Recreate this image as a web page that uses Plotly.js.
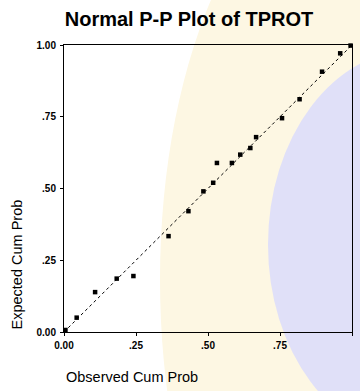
<!DOCTYPE html>
<html>
<head>
<meta charset="utf-8">
<script src="https://cdn.plot.ly/plotly-3.0.1.min.js"></script>
<style>html,body{margin:0;padding:0;background:#fff;}#chart{width:360px;height:391px;}</style>
</head>
<body>
<div id="chart"></div>
<script>
// Observed cumulative probability (x) and expected cumulative probability (y)
var observedCumProb = [0.005, 0.044, 0.108, 0.183, 0.241, 0.363, 0.432, 0.484, 0.518, 0.531, 0.583, 0.612, 0.647, 0.667, 0.757, 0.818, 0.896, 0.959, 0.995];
var expectedCumProb = [0.007, 0.050, 0.139, 0.186, 0.195, 0.334, 0.421, 0.490, 0.520, 0.589, 0.589, 0.618, 0.641, 0.679, 0.745, 0.811, 0.907, 0.971, 0.998];
// Reference diagonal
var diagX = [0, 1];
var diagY = [0, 1];
// Ticks
var tickVals = [0, 0.25, 0.5, 0.75, 1];
var tickText = ["0.00", ".25", ".50", ".75", "1.00"];
var chartTitle = "Normal P-P Plot of TPROT";
var xTitle = "Observed Cum Prob";
var yTitle = "Expected Cum Prob";

var FONT = "Liberation Sans, Arial, sans-serif";

var traces = [
  {x: diagX, y: diagY, mode: "lines", type: "scatter",
   line: {color: "#000", width: 1, dash: "dot"}, hoverinfo: "skip", showlegend: false, cliponaxis: false},
  {x: observedCumProb, y: expectedCumProb, mode: "markers", type: "scatter",
   marker: {symbol: "square", size: 4.5, color: "#000"}, showlegend: false, cliponaxis: false}
];

var axisCommon = {
  range: [0, 1], showgrid: false, zeroline: false,
  showline: true, mirror: true, linecolor: "#000", linewidth: 1,
  ticks: "outside", ticklen: 3, tickcolor: "#000",
  tickvals: tickVals, ticktext: tickText,
  tickfont: {family: FONT, size: 10, color: "#000", weight: "bold"},
  fixedrange: true
};

var layout = {
  width: 360, height: 391,
  margin: {l: 64, r: 8, t: 45, b: 59, pad: 0},
  paper_bgcolor: "#fff", plot_bgcolor: "rgba(0,0,0,0)",
  showlegend: false,
  title: {text: chartTitle, x: 0.525, xanchor: "center", y: 0.951, yanchor: "middle",
          font: {family: FONT, size: 20, color: "#000", weight: "bold"}},
  xaxis: Object.assign({}, axisCommon, {ticklabelstandoff: 1}),
  yaxis: Object.assign({}, axisCommon, {ticklabelstandoff: 2}),
  shapes: [
    {type: "circle", xref: "paper", yref: "paper", layer: "below",
     x0: (160 - 64) / 288, x1: (560 - 64) / 288,
     y0: (332.7 - 700) / 287.7, y1: (332.7 - (-140)) / 287.7,
     fillcolor: "#fdf7e3", line: {width: 0}},
    {type: "circle", xref: "paper", yref: "paper", layer: "below",
     x0: (268 - 64) / 288, x1: (560 - 64) / 288,
     y0: (332.7 - 440) / 287.7, y1: (332.7 - 50) / 287.7,
     fillcolor: "#e0e0f8", line: {width: 0}}
  ],
  annotations: [
    {text: xTitle, xref: "paper", yref: "paper", x: (132 - 64) / 288, y: (332.7 - 378) / 287.7,
     xanchor: "center", yanchor: "middle", showarrow: false,
     font: {family: FONT, size: 14.5, color: "#000"}},
    {text: yTitle, xref: "paper", yref: "paper", x: (17 - 64) / 288, y: (332.7 - 265) / 287.7,
     xanchor: "center", yanchor: "middle", showarrow: false, textangle: -90,
     font: {family: FONT, size: 14.5, color: "#000"}}
  ]
};

Plotly.newPlot("chart", traces, layout, {displayModeBar: false, staticPlot: true});
</script>
</body>
</html>
